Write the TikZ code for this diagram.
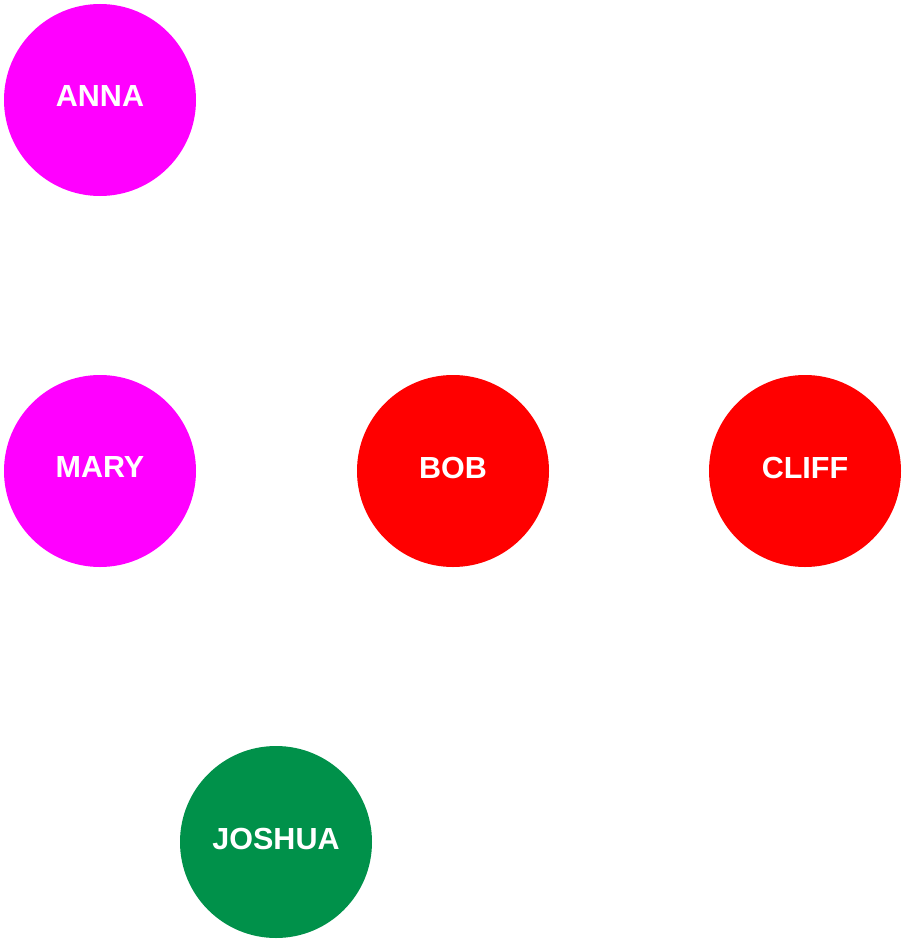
\documentclass[tikz,border=0pt]{standalone}
\usepackage{fontspec}
\setmainfont{Liberation Sans}
\definecolor{pink}{HTML}{FF00FF}
\definecolor{redc}{HTML}{FF0000}
\definecolor{greenc}{HTML}{00914A}
\begin{document}
\begin{tikzpicture}[x=1pt,y=-1pt,
  person/.style={circle,minimum size=192pt,inner sep=0pt,draw=none},
  lbl/.style={text=white,font=\fontsize{30.5}{32}\selectfont\bfseries,inner sep=0pt}]
\useasboundingbox (0,0) rectangle (905,942);
\node[person,fill=pink] (anna) at (100,100) {};
\node[person,fill=pink] (mary) at (100,471) {};
\node[person,fill=redc] (bob) at (453,471) {};
\node[person,fill=redc] (cliff) at (805,471) {};
\node[person,fill=greenc] (joshua) at (276,842) {};
\node[lbl] (annat) at ([yshift=3.5pt]anna.center) {ANNA};
\node[lbl] (maryt) at ([yshift=3.5pt]mary.center) {MARY};
\node[lbl] (bobt) at ([yshift=3.5pt]bob.center) {BOB};
\node[lbl] (clifft) at ([yshift=3.5pt]cliff.center) {CLIFF};
\node[lbl] (joshuat) at ([yshift=3.5pt]joshua.center) {JOSHUA};
\end{tikzpicture}
\end{document}
